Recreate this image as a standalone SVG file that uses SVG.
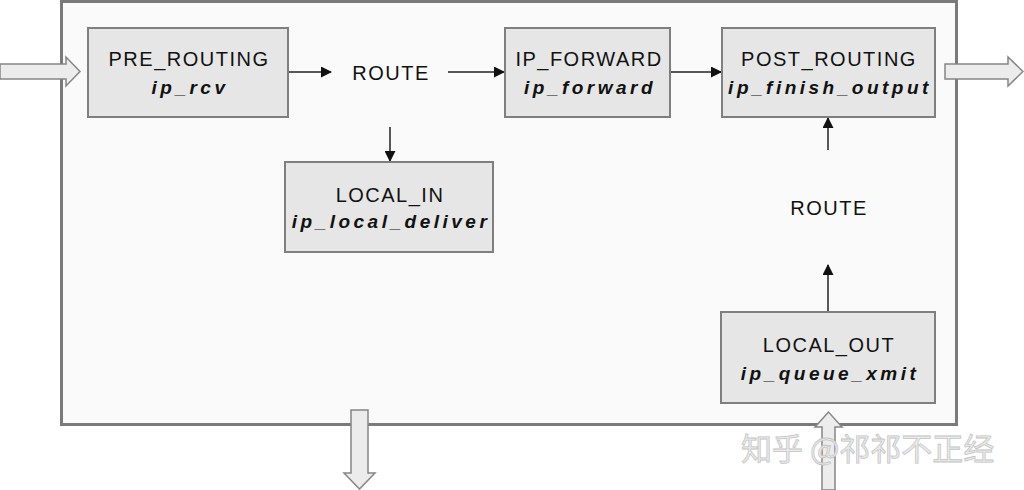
<svg xmlns="http://www.w3.org/2000/svg" width="1024" height="490" viewBox="0 0 1024 490">
<style>
.box{fill:#e6e6e6;stroke:#7f7f7f;stroke-width:2}
.t1{font-family:"Liberation Sans",Arial,sans-serif;font-size:20px;letter-spacing:1.5px;fill:#111;text-anchor:middle}
.t2{font-family:"Liberation Sans",Arial,sans-serif;font-size:19px;font-weight:bold;font-style:italic;letter-spacing:3.5px;fill:#111;text-anchor:middle}
.ln{stroke:#222;stroke-width:1.5;fill:none;marker-end:url(#ah)}
.hol{fill:#ececec;stroke:#858585;stroke-width:1.5}
.wm{font-family:"Noto Sans CJK SC",sans-serif;font-size:31px;fill:#ececec;stroke:#c4c4c4;stroke-width:0.8}
</style>
<defs>
<marker id="ah" markerWidth="11" markerHeight="11" refX="10" refY="5.5" orient="auto" markerUnits="userSpaceOnUse">
<path d="M0,0 L11,5.5 L0,11 Z" fill="#111"/>
</marker>
</defs>
<rect width="1024" height="490" fill="#ffffff"/>
<g id="frame">
<rect x="61.5" y="1.5" width="895" height="423" fill="#fafafa" stroke="#7a7a7a" stroke-width="3"/>
</g>
<g id="io-arrows">
<polygon class="hol" points="0,64 66,64 66,57 80,71.5 66,86 66,79 0,79"/>
<polygon class="hol" points="945,64 1008,64 1008,57 1023,71.5 1008,86 1008,79 945,79"/>
<polygon class="hol" points="351,410 368,410 368,473 375,473 359.5,489 344,473 351,473"/>
<polygon class="hol" points="822,490 822,427 815,427 828.5,412 842,427 835,427 835,490"/>
</g>
<g id="connectors">
<line class="ln" x1="288" y1="72" x2="331" y2="72"/>
<line class="ln" x1="448" y1="72" x2="504" y2="72"/>
<line class="ln" x1="670" y1="72" x2="721" y2="72"/>
<line class="ln" x1="390" y1="127" x2="390" y2="161"/>
<line class="ln" x1="828" y1="150" x2="828" y2="118"/>
<line class="ln" x1="828" y1="311" x2="828" y2="265"/>
</g>
<g id="pre_routing">
<rect class="box" x="88" y="28" width="200" height="89"/>
<text class="t1" x="189" y="66">PRE_ROUTING</text>
<text class="t2" x="190" y="94">ip_rcv</text>
</g>
<g id="route1">
<text class="t1" x="391" y="80">ROUTE</text>
</g>
<g id="ip_forward">
<rect class="box" x="505" y="28" width="165" height="89"/>
<text class="t1" x="589" y="66">IP_FORWARD</text>
<text class="t2" x="590" y="94">ip_forward</text>
</g>
<g id="post_routing">
<rect class="box" x="722" y="28" width="213" height="89"/>
<text class="t1" x="829" y="66">POST_ROUTING</text>
<text class="t2" x="830" y="94">ip_finish_output</text>
</g>
<g id="local_in">
<rect class="box" x="285" y="162" width="208" height="90"/>
<text class="t1" x="390" y="202">LOCAL_IN</text>
<text class="t2" x="391" y="228">ip_local_deliver</text>
</g>
<g id="route2">
<text class="t1" x="829" y="215">ROUTE</text>
</g>
<g id="local_out">
<rect class="box" x="721" y="312" width="214" height="91"/>
<text class="t1" x="829" y="352">LOCAL_OUT</text>
<text class="t2" x="830" y="380">ip_queue_xmit</text>
</g>
<g id="watermark">
<text class="wm" x="741" y="460">知乎 @祁祁不正经</text>
</g>
</svg>
